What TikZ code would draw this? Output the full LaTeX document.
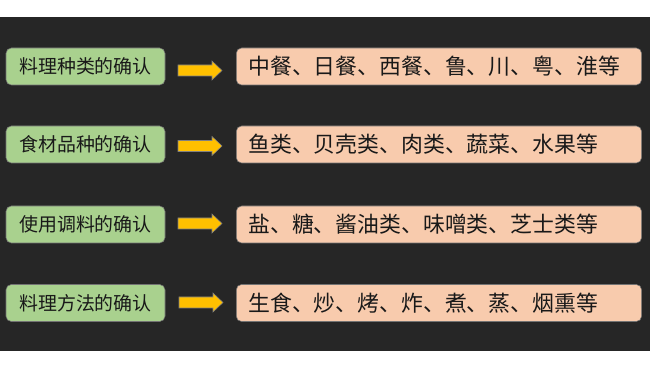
\documentclass[tikz,border=0pt]{standalone}
\usepackage{fontspec}
\setmainfont{Noto Sans CJK SC}
\definecolor{bgdark}{HTML}{262626}
\definecolor{catgreen}{HTML}{A9D18E}
\definecolor{detpeach}{HTML}{F8CBAD}
\definecolor{arrgold}{HTML}{FFC000}
\tikzset{blockarr/.pic={\draw[draw=black!50,fill=arrgold,line width=0.4pt] (0,-5.5) -- (34,-5.5) -- (34,-9.5) -- (44,0) -- (34,9.5) -- (34,5.5) -- (0,5.5) -- cycle;}}
\begin{document}
\begin{tikzpicture}[x=0.75pt,y=-0.75pt]
\tikzstyle{cat}=[draw=black!55,fill=catgreen,rounded corners=4pt,minimum height=27.75pt,minimum width=119.25pt,inner sep=0pt,font=\fontsize{14.2}{16}\selectfont,text=black!90]
\tikzstyle{det}=[draw=black!55,fill=detpeach,rounded corners=4pt,minimum height=27.75pt,text width=286pt,inner xsep=9pt,inner ysep=0pt,align=left,anchor=west,font=\fontsize{16.4}{20}\selectfont,text=black!90]
\useasboundingbox (0,0) rectangle (650,366);
\fill[bgdark] (0,17) rectangle (650,351);
\node[cat] (cat1) at (85.5,66.5) {料理种类的确认}; \pic (arr1) at (178,70.5) {blockarr}; \node[det] (det1) at (236,66.5) {中餐、日餐、西餐、鲁、川、粤、淮等};
\node[cat] (cat2) at (85.5,144.5) {食材品种的确认}; \pic (arr2) at (178,146) {blockarr}; \node[det] (det2) at (236,144.5) {鱼类、贝壳类、肉类、蔬菜、水果等};
\node[cat] (cat3) at (85.5,224.5) {使用调料的确认}; \pic (arr3) at (178,223.5) {blockarr}; \node[det] (det3) at (236,224.5) {盐、糖、酱油类、味噌类、芝士类等};
\node[cat] (cat4) at (85.5,303) {料理方法的确认}; \pic (arr4) at (179,302.5) {blockarr}; \node[det] (det4) at (236,303) {生食、炒、烤、炸、煮、蒸、烟熏等};
\end{tikzpicture}
\end{document}
